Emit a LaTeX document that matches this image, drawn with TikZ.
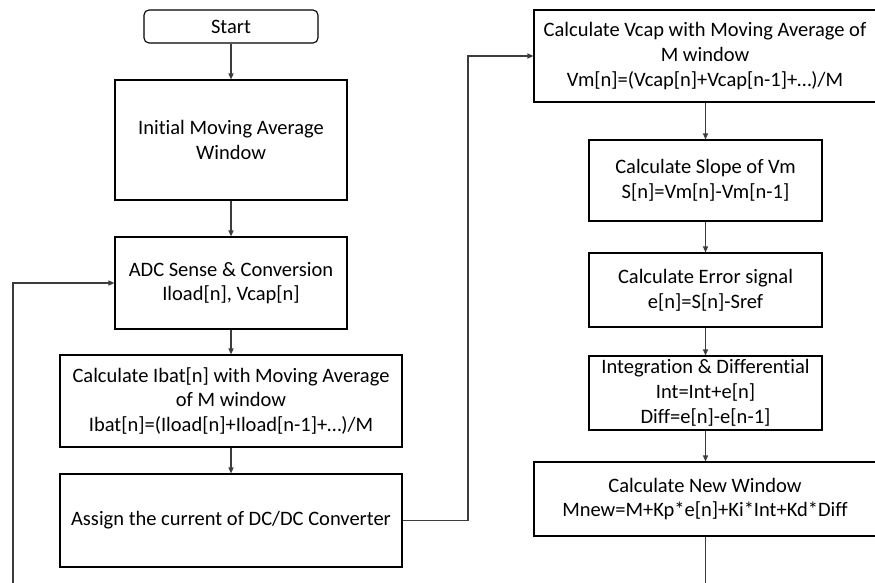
\documentclass[tikz,border=0pt]{standalone}
\usepackage{fontspec}
\setmainfont{Carlito}[Ligatures=NoCommon]
\usetikzlibrary{arrows.meta}
\begin{document}
\begin{tikzpicture}[x=1pt,y=-1pt,
  box/.style={draw=black,line width=1.1pt,inner sep=0pt,align=center,
    font=\fontsize{20.5}{24.8}\selectfont,text=black},
  conn/.style={draw={rgb,255:red,60;green,60;blue,60},line width=1.2pt},
  arr/.style={conn,-{Triangle[length=6pt,width=5pt]}}]
\fill[white] (0,0) rectangle (875,583);
\useasboundingbox (0,0) rectangle (875,583);
\clip (0,0) rectangle (875,583);
% left column
\node[box,rounded corners=5pt,minimum width=174pt,minimum height=33pt] (start) at (231,26.5) {Start};
\node[box,minimum width=232pt,minimum height=120pt] (init) at (231,140) {Initial Moving Average\\Window};
\node[box,minimum width=232pt,minimum height=92pt] (adc) at (231,283) {ADC Sense \& Conversion\\Iload[n], Vcap[n]};
\node[box,minimum width=342pt,minimum height=92pt] (ibat) at (231,401) {Calculate Ibat[n] with Moving Average\\of M window\\Ibat[n]=(Iload[n]+Iload[n-1]+…)/M};
\node[box,minimum width=342pt,minimum height=93pt] (assign) at (231,520.5) {Assign the current of DC/DC Converter};
% right column
\node[box,minimum width=342pt,minimum height=92pt] (vcap) at (705,56) {Calculate Vcap with Moving Average of\\M window\\Vm[n]=(Vcap[n]+Vcap[n-1]+…)/M};
\node[box,minimum width=233pt,minimum height=81pt] (slope) at (705.5,180.5) {Calculate Slope of Vm\\S[n]=Vm[n]-Vm[n-1]};
\node[box,minimum width=233pt,minimum height=74pt] (error) at (705.5,290) {Calculate Error signal\\e[n]=S[n]-Sref};
\node[box,minimum width=233pt,minimum height=74pt] (integ) at (705.5,393) {Integration \& Differential\\Int=Int+e[n]\\Diff=e[n]-e[n-1]};
\node[box,minimum width=342pt,minimum height=74pt] (newwin) at (705,499) {Calculate New Window\\Mnew=M+Kp*e[n]+Ki*Int+Kd*Diff};
% connectors
\draw[arr] (start) -- (init);
\draw[arr] (init) -- (adc);
\draw[arr] (adc) -- (ibat);
\draw[arr] (ibat) -- (assign);
\draw[arr] (vcap.south -| slope.north) -- (slope);
\draw[arr] (slope) -- (error);
\draw[arr] (error) -- (integ);
\draw[arr] (integ) -- (newwin.north -| integ.south);
\coordinate (bend) at (468,520.5);
\draw[arr] (assign.east) -- (bend) |- (vcap.west);
\coordinate (loopend) at (13,590);
\draw[arr] (loopend) |- (adc.west);
\coordinate (outend) at (705.5,590);
\draw[conn] (newwin.south -| outend) -- (outend);
\end{tikzpicture}
\end{document}
